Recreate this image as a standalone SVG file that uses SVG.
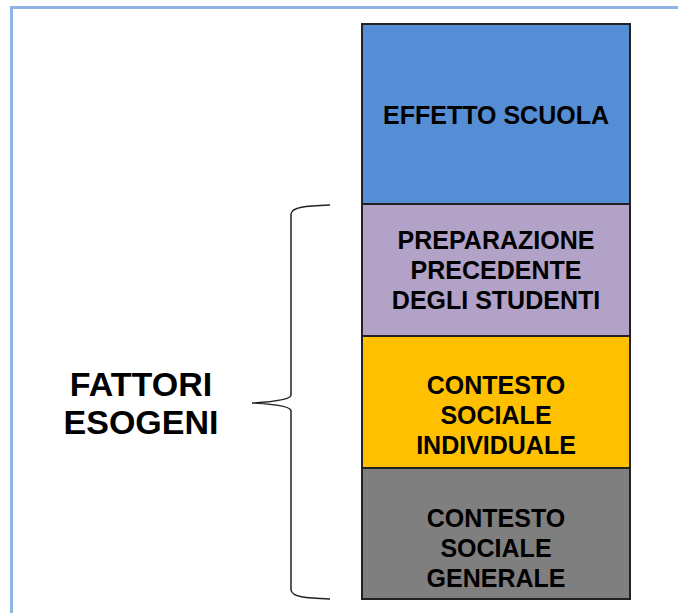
<svg xmlns="http://www.w3.org/2000/svg" width="678" height="613" viewBox="0 0 678 613">
<style>
.box{stroke:#222;stroke-width:2}
.t{font-family:"Liberation Sans",Arial,sans-serif;font-weight:bold;font-size:25px;fill:#000;text-anchor:middle}
.big{font-size:34px}
.brace{fill:none;stroke:#222;stroke-width:1.5}
</style>
<rect x="0" y="0" width="678" height="613" fill="#fff"/>
<path d="M11.5 613 V7.5 H678" fill="none" stroke="#8DB4E2" stroke-width="3"/>
<g id="effetto">
<rect class="box" x="362" y="24" width="268" height="180" fill="#558ED5"/>
<text class="t" x="496" y="124">EFFETTO SCUOLA</text>
</g>
<g id="preparazione">
<rect class="box" x="362" y="204" width="268" height="132" fill="#B3A2C7"/>
<text class="t" x="496" y="249">PREPARAZIONE</text>
<text class="t" x="496" y="279">PRECEDENTE</text>
<text class="t" x="496" y="309">DEGLI STUDENTI</text>
</g>
<g id="individuale">
<rect class="box" x="362" y="336" width="268" height="132" fill="#FFC000"/>
<text class="t" x="496" y="394">CONTESTO</text>
<text class="t" x="496" y="424">SOCIALE</text>
<text class="t" x="496" y="454">INDIVIDUALE</text>
</g>
<g id="generale">
<rect class="box" x="362" y="468" width="268" height="131" fill="#7F7F7F"/>
<text class="t" x="496" y="527">CONTESTO</text>
<text class="t" x="496" y="557">SOCIALE</text>
<text class="t" x="496" y="587">GENERALE</text>
</g>
<g id="fattori">
<text class="t big" x="141" y="396">FATTORI</text>
<text class="t big" x="141" y="434">ESOGENI</text>
</g>
<g id="connectors">
<path class="brace" d="M330 205 C305 206 292 207 291 214 V395 C291 400 270 402 252 403 C270 404 291 406 291 411 V590 C292 597 305 598 330 599"/>
</g>
</svg>
